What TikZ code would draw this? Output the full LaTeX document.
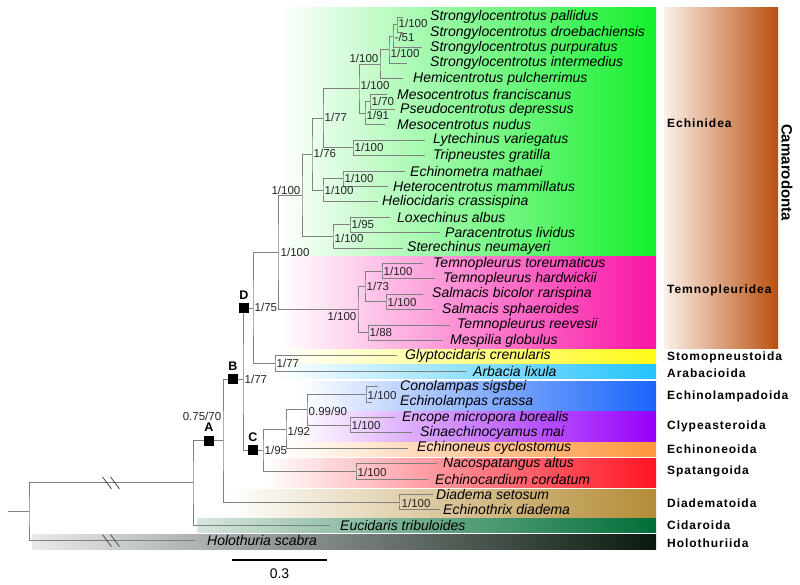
\documentclass[tikz,border=0pt]{standalone}
\usepackage{fontspec}
\setmainfont{Liberation Sans}
\newfontfamily\grpfont[LetterSpace=8]{Liberation Sans}
\usepackage{tikz}
\usetikzlibrary{positioning}

\definecolor{echgreen}{RGB}{20,240,45}
\definecolor{temmag}{RGB}{250,20,165}
\definecolor{stoyel}{RGB}{255,250,25}
\definecolor{arbcyan}{RGB}{35,195,250}
\definecolor{lampblue}{RGB}{25,100,250}
\definecolor{clypurp}{RGB}{150,0,250}
\definecolor{neoorange}{RGB}{255,150,60}
\definecolor{spatred}{RGB}{255,20,35}
\definecolor{diabrown}{RGB}{180,140,55}
\definecolor{cidgreen}{RGB}{0,110,55}
\definecolor{cidpale}{RGB}{215,230,222}
\definecolor{holodark}{RGB}{10,25,15}
\definecolor{holopale}{RGB}{232,234,234}
\definecolor{camabrown}{RGB}{185,80,15}
\definecolor{camapale}{RGB}{252,240,232}

\begin{document}
\begin{tikzpicture}[x=1pt,y=-1pt,
	br/.style={draw=black!50, line width=0.9pt},
	brk/.style={draw=black!70, line width=0.8pt},
	sp/.style={anchor=west, inner sep=0pt, font=\fontsize{14}{14}\selectfont\itshape},
	bsup/.style={anchor=west, inner sep=0.5pt, text=black!85, font=\fontsize{11.5}{12}\selectfont},
	grp/.style={anchor=west, inner sep=0pt, font=\fontsize{12}{12}\selectfont\grpfont\bfseries},
	sq/.style={fill=black, minimum size=10pt, inner sep=0pt},
	lab/.style={inner sep=0pt, font=\fontsize{12.5}{12}\selectfont\bfseries}]
	\useasboundingbox (0,0) rectangle (800,585);

	% clade bands
	\shade[left color=white, right color=echgreen] (280,8) rectangle (656,255.5);
	\shade[left color=white, right color=temmag] (280,256.5) rectangle (656,348);
	\shade[left color=white, right color=stoyel] (275,349.5) rectangle (656,363.5);
	\shade[left color=white, right color=arbcyan] (275,364.5) rectangle (656,378);
	\shade[left color=white, right color=lampblue] (300,381) rectangle (656,410.5);
	\shade[left color=white, right color=clypurp] (295,411.5) rectangle (656,441.5);
	\shade[left color=white, right color=neoorange] (285,442.5) rectangle (656,456.5);
	\shade[left color=white, right color=spatred] (263,458) rectangle (656,487);
	\shade[left color=white, right color=diabrown] (227,489) rectangle (656,517);
	\shade[left color=cidpale, right color=cidgreen] (197,518.5) rectangle (656,532.5);
	\shade[left color=holopale, right color=holodark] (32,534) rectangle (656,549);
	\shade[left color=camapale, right color=camabrown] (664,8) rectangle (778,348);

	% internal nodes
	\coordinate (P) at (397,24.7);
	\coordinate (Q) at (393,36.25);
	\coordinate (R) at (389,49.73);
	\coordinate (SH) at (380,64.16);
	\coordinate (M1) at (370,101.7);
	\coordinate (M2) at (365,113.25);
	\coordinate (N1) at (359,88.7);
	\coordinate (LT) at (353,147.9);
	\coordinate (N77) at (323,118.3);
	\coordinate (EH) at (343,178.7);
	\coordinate (EHH) at (323,190.25);
	\coordinate (N76) at (312,154.3);
	\coordinate (LP) at (350,224.9);
	\coordinate (LPS) at (333,236.45);
	\coordinate (ECH) at (302,195.4);
	\coordinate (TH) at (382,271.1);
	\coordinate (SS) at (386,301.9);
	\coordinate (N73) at (365,286.5);
	\coordinate (RM) at (368,332.7);
	\coordinate (TEM) at (358,309.6);
	\coordinate (CAM) at (278,252.5);
	\coordinate (GA) at (275,363.5);
	\coordinate (D) at (253,308);
	\coordinate (CE) at (366,394.3);
	\coordinate (ES) at (350,425.1);
	\coordinate (N99) at (307,409.7);
	\coordinate (N92) at (286,428.95);
	\coordinate (NE) at (356,471.3);
	\coordinate (C) at (263,450.1);
	\coordinate (B) at (243,379.05);
	\coordinate (DIA) at (399,502.1);
	\coordinate (A) at (223,440.6);
	\coordinate (N0) at (193,482.9);
	\coordinate (ROOT) at (29,511.75);
	\coordinate (stub) at (8,511.75);

	% tips
	\coordinate (e1) at (403,17);     \node[sp] (t1) at (430,17) {Strongylocentrotus pallidus};
	\coordinate (e2) at (403,32.4);   \node[sp] (t2) at (430,32.4) {Strongylocentrotus droebachiensis};
	\coordinate (e3) at (422,47.8);   \node[sp] (t3) at (430,47.8) {Strongylocentrotus purpuratus};
	\coordinate (e4) at (407,63.2);   \node[sp] (t4) at (430,63.2) {Strongylocentrotus intermedius};
	\coordinate (e5) at (403,78.6);   \node[sp] (t5) at (413,78.6) {Hemicentrotus pulcherrimus};
	\coordinate (e6) at (387,94);     \node[sp] (t6) at (397,94) {Mesocentrotus franciscanus};
	\coordinate (e7) at (395,109.4);  \node[sp] (t7) at (400,109.4) {Pseudocentrotus depressus};
	\coordinate (e8) at (385,124.8);  \node[sp] (t8) at (397,124.8) {Mesocentrotus nudus};
	\coordinate (e9) at (425,140.2);  \node[sp] (t9) at (433,140.2) {Lytechinus variegatus};
	\coordinate (e10) at (425,155.6); \node[sp] (t10) at (433,155.6) {Tripneustes gratilla};
	\coordinate (e11) at (405,171);   \node[sp] (t11) at (410,171) {Echinometra mathaei};
	\coordinate (e12) at (388,186.4); \node[sp] (t12) at (393,186.4) {Heterocentrotus mammillatus};
	\coordinate (e13) at (378,201.8); \node[sp] (t13) at (382,201.8) {Heliocidaris crassispina};
	\coordinate (e14) at (390,217.2); \node[sp] (t14) at (397,217.2) {Loxechinus albus};
	\coordinate (e15) at (440,232.6); \node[sp] (t15) at (445,232.6) {Paracentrotus lividus};
	\coordinate (e16) at (403,248);   \node[sp] (t16) at (407,248) {Sterechinus neumayeri};
	\coordinate (e17) at (423,263.4); \node[sp] (t17) at (433,263.4) {Temnopleurus toreumaticus};
	\coordinate (e18) at (435,278.8); \node[sp] (t18) at (443,278.8) {Temnopleurus hardwickii};
	\coordinate (e19) at (423,294.2); \node[sp] (t19) at (432,294.2) {Salmacis bicolor rarispina};
	\coordinate (e20) at (433,309.6); \node[sp] (t20) at (442,309.6) {Salmacis sphaeroides};
	\coordinate (e21) at (450,325);   \node[sp] (t21) at (457,325) {Temnopleurus reevesii};
	\coordinate (e22) at (443,340.4); \node[sp] (t22) at (450,340.4) {Mespilia globulus};
	\coordinate (e23) at (397,355.8); \node[sp] (t23) at (405,355.8) {Glyptocidaris crenularis};
	\coordinate (e24) at (467,371.2); \node[sp] (t24) at (473,371.2) {Arbacia lixula};
	\coordinate (e25) at (378,386.6); \node[sp] (t25) at (400,386.6) {Conolampas sigsbei};
	\coordinate (e26) at (372,402);   \node[sp] (t26) at (400,402) {Echinolampas crassa};
	\coordinate (e27) at (395,417.4); \node[sp] (t27) at (402,417.4) {Encope micropora borealis};
	\coordinate (e28) at (412,432.8); \node[sp] (t28) at (420,432.8) {Sinaechinocyamus mai};
	\coordinate (e29) at (408,448.2); \node[sp] (t29) at (417,448.2) {Echinoneus cyclostomus};
	\coordinate (e30) at (437,463.6); \node[sp] (t30) at (443,463.6) {Nacospatangus altus};
	\coordinate (e31) at (428,479);   \node[sp] (t31) at (435,479) {Echinocardium cordatum};
	\coordinate (e32) at (433,494.4); \node[sp] (t32) at (436,494.4) {Diadema setosum};
	\coordinate (e33) at (440,509.8); \node[sp] (t33) at (443,509.8) {Echinothrix diadema};
	\coordinate (e34) at (330,525.2); \node[sp] (t34) at (340,525.2) {Eucidaris tribuloides};
	\coordinate (e35) at (195,540.6); \node[sp] (t35) at (207,540.6) {Holothuria scabra};

	% branches
	\draw[br] (e1) -| (P) |- (e2);
	\draw[br] (P) -| (Q) |- (e3);
	\draw[br] (Q) -| (R) |- (e4);
	\draw[br] (R) -| (SH) |- (e5);
	\draw[br] (e6) -| (M1) |- (e7);
	\draw[br] (M1) -| (M2) |- (e8);
	\draw[br] (SH) -| (N1) |- (M2);
	\draw[br] (e9) -| (LT) |- (e10);
	\draw[br] (N1) -| (N77) |- (LT);
	\draw[br] (e11) -| (EH) |- (e12);
	\draw[br] (EH) -| (EHH) |- (e13);
	\draw[br] (N77) -| (N76) |- (EHH);
	\draw[br] (e14) -| (LP) |- (e15);
	\draw[br] (LP) -| (LPS) |- (e16);
	\draw[br] (N76) -| (ECH) |- (LPS);
	\draw[br] (e17) -| (TH) |- (e18);
	\draw[br] (e19) -| (SS) |- (e20);
	\draw[br] (TH) -| (N73) |- (SS);
	\draw[br] (e21) -| (RM) |- (e22);
	\draw[br] (N73) -| (TEM) |- (RM);
	\draw[br] (ECH) -| (CAM) |- (TEM);
	\draw[br] (e23) -| (GA) |- (e24);
	\draw[br] (CAM) -| (D) |- (GA);
	\draw[br] (e25) -| (CE) |- (e26);
	\draw[br] (e27) -| (ES) |- (e28);
	\draw[br] (CE) -| (N99) |- (ES);
	\draw[br] (N99) -| (N92) |- (e29);
	\draw[br] (e30) -| (NE) |- (e31);
	\draw[br] (N92) -| (C) |- (NE);
	\draw[br] (D) -| (B) |- (C);
	\draw[br] (e32) -| (DIA) |- (e33);
	\draw[br] (B) -| (A) |- (DIA);
	\draw[br] (A) -| (N0) |- (e34);
	\draw[br] (N0) -| (ROOT) |- (e35);
	\draw[br] (stub) -- (ROOT);
	\foreach \yy in {482.9,540.6}
		\foreach \xx in {107,115}
			\draw[brk] (\xx-4.5,\yy-6) -- (\xx+4.5,\yy+6);

	% support values
	\node[bsup] (s1) at (398,23) {1/100};
	\node[bsup] (s2) at (394,37.5) {-/51};
	\node[bsup] (s3) at (390,53) {1/100};
	\node[bsup, anchor=east] (s4) at (379,58) {1/100};
	\node[bsup] (s5) at (360,85) {1/100};
	\node[bsup] (s6) at (371,101) {1/70};
	\node[bsup] (s7) at (366,115.5) {1/91};
	\node[bsup] (s8) at (354,147.5) {1/100};
	\node[bsup] (s9) at (324,117.5) {1/77};
	\node[bsup] (s10) at (344,178) {1/100};
	\node[bsup] (s11) at (324,190.5) {1/100};
	\node[bsup] (s12) at (313,153.5) {1/76};
	\node[bsup] (s13) at (351,224.5) {1/95};
	\node[bsup] (s14) at (334,238) {1/100};
	\node[bsup, anchor=east] (s15) at (301,190) {1/100};
	\node[bsup] (s16) at (280,252.5) {1/100};
	\node[bsup] (s17) at (383,271) {1/100};
	\node[bsup] (s18) at (387,302) {1/100};
	\node[bsup] (s19) at (366,286.5) {1/73};
	\node[bsup] (s20) at (369,332.5) {1/88};
	\node[bsup, anchor=east] (s21) at (357,316) {1/100};
	\node[bsup] (s22) at (254,307.5) {1/75};
	\node[bsup] (s23) at (276,363.5) {1/77};
	\node[bsup] (s24) at (367,395) {1/100};
	\node[bsup] (s25) at (351,425) {1/100};
	\node[bsup] (s26) at (308,411) {0.99/90};
	\node[bsup] (s27) at (287,431) {1/92};
	\node[bsup] (s28) at (357,472) {1/100};
	\node[bsup] (s29) at (264,450.5) {1/95};
	\node[bsup] (s30) at (244,379) {1/77};
	\node[bsup] (s31) at (401,503) {1/100};
	\node[bsup, anchor=center] (s32) at (202,416.5) {0.75/70};

	% marked nodes
	\node[sq] (sqA) at (209,440.6) {};
	\node[sq] (sqB) at (233,379.05) {};
	\node[sq] (sqC) at (253,450.1) {};
	\node[sq] (sqD) at (244,308) {};
	\node[lab, above=3.5pt of sqA] (labA) {A};
	\node[lab, above=3.5pt of sqB] (labB) {B};
	\node[lab, above=3pt of sqC] (labC) {C};
	\node[lab, above=3.5pt of sqD] (labD) {D};

	% clade names
	\node[grp] (g1) at (667,123) {Echinidea};
	\node[grp] (g2) at (667,290) {Temnopleuridea};
	\node[grp] (g3) at (667,357) {Stomopneustoida};
	\node[grp] (g4) at (667,373) {Arabacioida};
	\node[grp] (g5) at (667,396) {Echinolampadoida};
	\node[grp] (g6) at (667,426) {Clypeasteroida};
	\node[grp] (g7) at (667,449) {Echinoneoida};
	\node[grp] (g8) at (667,471) {Spatangoida};
	\node[grp] (g9) at (667,503) {Diadematoida};
	\node[grp] (g10) at (667,525) {Cidaroida};
	\node[grp] (g11) at (667,543) {Holothuriida};
	\node[rotate=-90, inner sep=0pt, font=\fontsize{15}{15}\selectfont\bfseries] (cama) at (787,172.5) {Camarodonta};

	% scale bar
	\coordinate (sb1) at (232,560);
	\coordinate (sb2) at (327,560);
	\draw[line width=2pt] (sb1) -- (sb2) node[midway, below=4pt, font=\fontsize{14}{14}\selectfont] (sbl) {0.3};
\end{tikzpicture}
\end{document}
